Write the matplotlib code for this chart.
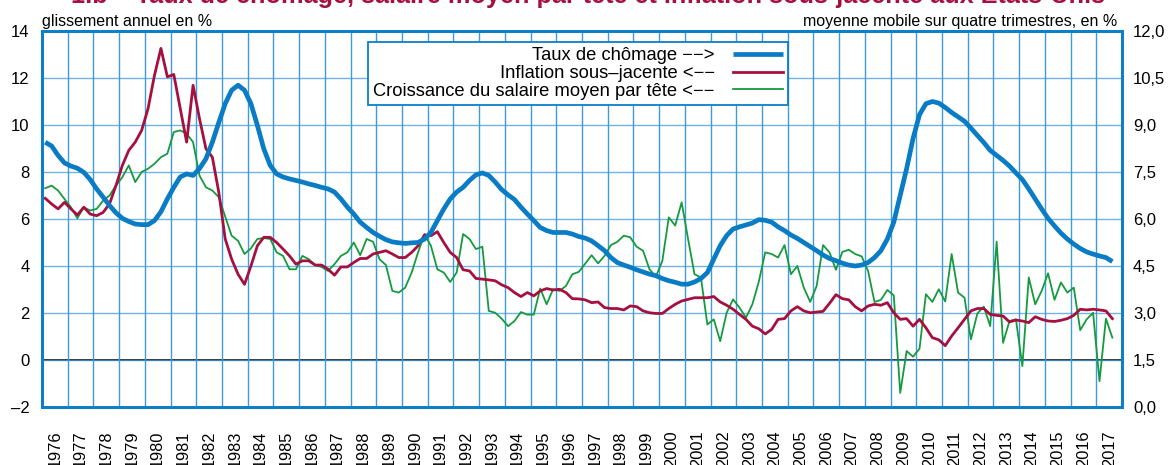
import numpy as np
import matplotlib
matplotlib.use("Agg")
import matplotlib.pyplot as plt

plt.rcParams['font.family'] = ['Liberation Sans', 'DejaVu Sans']

# quarterly data, 1976Q1 .. 2017Q3
# unemployment rate, 4-quarter moving average (right axis, %)
unemployment = [
    8.45, 8.33, 8.03, 7.79,   # 1976
    7.69, 7.62, 7.49, 7.26,   # 1977
    6.96, 6.70, 6.43, 6.20,   # 1978
    6.02, 5.92, 5.84, 5.82,   # 1979
    5.82, 5.95, 6.23, 6.64,   # 1980
    7.01, 7.34, 7.44, 7.39,   # 1981
    7.61, 7.92, 8.45, 9.08,   # 1982
    9.68, 10.11, 10.27, 10.11,  # 1983
    9.68, 8.99, 8.24, 7.71,   # 1984
    7.44, 7.34, 7.28, 7.23,   # 1985
    7.18, 7.12, 7.07, 7.01,   # 1986
    6.96, 6.86, 6.64, 6.38,   # 1987
    6.16, 5.90, 5.73, 5.57,   # 1988
    5.45, 5.34, 5.27, 5.24,   # 1989
    5.22, 5.24, 5.25, 5.36,   # 1990
    5.57, 5.95, 6.32, 6.64,   # 1991
    6.86, 7.01, 7.23, 7.41,   # 1992
    7.47, 7.39, 7.18, 6.94,   # 1993
    6.77, 6.62, 6.38, 6.16,   # 1994
    5.95, 5.73, 5.63, 5.57,   # 1995
    5.57, 5.57, 5.52, 5.44,   # 1996
    5.39, 5.30, 5.15, 4.99,   # 1997
    4.77, 4.61, 4.53, 4.46,   # 1998
    4.38, 4.31, 4.24, 4.19,   # 1999
    4.10, 4.03, 3.98, 3.92,   # 2000
    3.92, 3.99, 4.10, 4.29,   # 2001
    4.72, 5.15, 5.47, 5.68,   # 2002
    5.75, 5.81, 5.87, 5.98,   # 2003
    5.96, 5.90, 5.75, 5.63,   # 2004
    5.49, 5.38, 5.25, 5.12,   # 2005
    4.99, 4.85, 4.74, 4.67,   # 2006
    4.59, 4.53, 4.50, 4.53,   # 2007
    4.61, 4.77, 4.99, 5.36,   # 2008
    5.90, 6.75, 7.61, 8.57,   # 2009
    9.33, 9.68, 9.75, 9.70,   # 2010
    9.56, 9.40, 9.26, 9.12,   # 2011
    8.90, 8.67, 8.44, 8.19,   # 2012
    8.03, 7.87, 7.69, 7.47,   # 2013
    7.26, 6.96, 6.64, 6.32,   # 2014
    6.02, 5.78, 5.55, 5.36,   # 2015
    5.20, 5.06, 4.95, 4.88,   # 2016
    4.82, 4.77, 4.64,         # 2017
]

# core inflation, year-on-year (left axis, %)
inflation = [
    6.88, 6.64, 6.43, 6.71,   # 1976
    6.43, 6.17, 6.50, 6.21,   # 1977
    6.14, 6.28, 6.64, 7.42,   # 1978
    8.28, 8.92, 9.27, 9.77,   # 1979
    10.70, 12.12, 13.26, 12.05,  # 1980
    12.15, 10.70, 9.27, 11.69,   # 1981
    10.27, 8.99, 8.63, 7.14,  # 1982
    5.15, 4.29, 3.65, 3.22,   # 1983
    4.00, 4.86, 5.22, 5.22,   # 1984
    5.00, 4.72, 4.43, 4.08,   # 1985
    4.22, 4.22, 4.04, 4.04,   # 1986
    3.86, 3.61, 3.96, 3.96,   # 1987
    4.15, 4.32, 4.32, 4.51,   # 1988
    4.58, 4.65, 4.51, 4.36,   # 1989
    4.36, 4.58, 4.86, 5.32,   # 1990
    5.29, 5.46, 5.00, 4.58,   # 1991
    4.36, 3.84, 3.79, 3.47,   # 1992
    3.44, 3.41, 3.37, 3.20,   # 1993
    3.08, 2.87, 2.70, 2.87,   # 1994
    2.73, 2.94, 3.04, 2.98,   # 1995
    3.01, 2.87, 2.61, 2.60,   # 1996
    2.56, 2.44, 2.47, 2.23,   # 1997
    2.19, 2.19, 2.13, 2.30,   # 1998
    2.27, 2.09, 2.01, 1.98,   # 1999
    1.98, 2.19, 2.37, 2.51,   # 2000
    2.58, 2.65, 2.65, 2.65,   # 2001
    2.70, 2.47, 2.33, 2.16,   # 2002
    1.94, 1.73, 1.44, 1.33,   # 2003
    1.11, 1.30, 1.73, 1.76,   # 2004
    2.09, 2.27, 2.09, 2.01,   # 2005
    2.04, 2.07, 2.41, 2.78,   # 2006
    2.61, 2.56, 2.27, 2.09,   # 2007
    2.30, 2.37, 2.33, 2.44,   # 2008
    2.01, 1.73, 1.76, 1.44,   # 2009
    1.73, 1.37, 0.95, 0.86,   # 2010
    0.61, 1.02, 1.37, 1.73,   # 2011
    2.09, 2.19, 2.19, 1.94,   # 2012
    1.90, 1.87, 1.62, 1.70,   # 2013
    1.66, 1.59, 1.84, 1.73,   # 2014
    1.66, 1.64, 1.69, 1.76,   # 2015
    1.90, 2.16, 2.13, 2.16,   # 2016
    2.13, 2.09, 1.76,         # 2017
]

# average wage per head, year-on-year (left axis, %)
wages = [
    7.31, 7.42, 7.21, 6.85,   # 1976
    6.50, 6.03, 6.50, 6.36,   # 1977
    6.43, 6.78, 7.00, 7.42,   # 1978
    7.78, 8.28, 7.57, 8.00,   # 1979
    8.14, 8.35, 8.63, 8.78,   # 1980
    9.70, 9.77, 9.63, 9.27,   # 1981
    7.85, 7.35, 7.21, 6.93,   # 1982
    6.10, 5.29, 5.07, 4.51,   # 1983
    4.75, 5.15, 5.19, 5.15,   # 1984
    4.58, 4.43, 3.86, 3.86,   # 1985
    4.43, 4.29, 4.04, 3.96,   # 1986
    3.79, 4.08, 4.43, 4.58,   # 1987
    5.00, 4.46, 5.15, 5.03,   # 1988
    4.29, 4.04, 2.94, 2.87,   # 1989
    3.08, 3.72, 4.58, 5.36,   # 1990
    4.86, 3.86, 3.72, 3.32,   # 1991
    3.72, 5.36, 5.15, 4.72,   # 1992
    4.82, 2.09, 2.01, 1.76,   # 1993
    1.44, 1.66, 2.04, 1.93,   # 1994
    1.93, 3.04, 2.37, 3.01,   # 1995
    2.94, 3.15, 3.65, 3.75,   # 1996
    4.10, 4.46, 4.11, 4.43,   # 1997
    4.89, 5.03, 5.29, 5.22,   # 1998
    4.82, 4.65, 3.86, 3.55,   # 1999
    4.22, 6.07, 5.72, 6.71,   # 2000
    5.15, 3.65, 3.51, 1.51,   # 2001
    1.73, 0.80, 2.01, 2.58,   # 2002
    2.23, 1.80, 2.37, 3.33,   # 2003
    4.58, 4.51, 4.36, 4.89,   # 2004
    3.65, 4.00, 3.08, 2.47,   # 2005
    3.15, 4.89, 4.58, 3.84,   # 2006
    4.60, 4.69, 4.51, 4.41,   # 2007
    3.79, 2.47, 2.56, 2.98,   # 2008
    2.75, -1.40, 0.38, 0.14,  # 2009
    0.48, 2.80, 2.47, 3.01,   # 2010
    2.49, 4.51, 2.87, 2.65,   # 2011
    0.88, 1.98, 2.27, 1.44,   # 2012
    5.03, 0.73, 1.66, 1.73,   # 2013
    -0.26, 3.51, 2.37, 2.94,  # 2014
    3.69, 2.56, 3.30, 2.87,   # 2015
    3.08, 1.27, 1.73, 2.01,   # 2016
    -0.90, 1.76, 0.95,        # 2017
]

years = list(range(1976, 2018))
left_ticks = [-2, 0, 2, 4, 6, 8, 10, 12, 14]
left_labels = ['–2', '0', '2', '4', '6', '8', '10', '12', '14']
right_ticks = [0, 1.5, 3, 4.5, 6, 7.5, 9, 10.5, 12]
right_labels = ['0,0', '1,5', '3,0', '4,5', '6,0', '7,5', '9,0', '10,5', '12,0']

title = "1.b – Taux de chômage, salaire moyen par tête et inflation sous-jacente aux Etats-Unis"
label_u = "Taux de chômage \u2212\u2212>"
label_i = "Inflation sous\u2013jacente <\u2212\u2212"
label_w = "Croissance du salaire moyen par tête <\u2212\u2212"

# colours
c_blue = '#0a7cc6'
c_red = '#a5103f'
c_green = '#169a3e'
c_grid = '#3f9bd9'
c_frame = '#0c7fc8'

x = years[0] + 0.125 + 0.25 * np.arange(len(inflation))

W, H = 1168, 465
fig = plt.figure(figsize=(W / 100, H / 100), dpi=100)
ax = fig.add_axes([42 / W, 1 - 407 / H, 1080 / W, 376 / H])
ax2 = ax.twinx()

# grid
ax.set_xlim(years[0], years[-1] + 1)
ax.set_ylim(-2, 14)
ax2.set_ylim(0, 12)
ax.set_xticks(np.arange(years[0] + 1, years[-1] + 1))
ax.set_xticklabels([])
ax.set_xticks(np.array(years) + 0.5, minor=True)
ax.set_xticklabels([str(y) for y in years], minor=True, rotation=90, fontsize=11.8)
ax.tick_params(axis='x', which='both', length=0)
ax.tick_params(axis='x', which='minor', pad=17)
ax.grid(axis='x', which='major', color=c_grid, lw=1.0)
ax.grid(axis='y', color=c_grid, lw=1.0, alpha=0.75)
ax.axhline(0, color='#222222', lw=1.3, zorder=1.5)

ax.set_yticks(left_ticks)
ax.set_yticklabels(left_labels, fontsize=12)
ax.tick_params(axis='y', length=0, pad=9)
ax2.set_yticks(right_ticks)
ax2.set_yticklabels(right_labels, fontsize=12)
ax2.tick_params(axis='y', length=0, pad=8)

# series
l_w, = ax.plot(x, wages, color=c_green, lw=1.3, zorder=2)
l_i, = ax.plot(x, inflation, color=c_red, lw=2.0, zorder=3)
l_u, = ax2.plot(x, unemployment, color=c_blue, lw=3.4, zorder=4, solid_capstyle='butt')

for a in (ax, ax2):
    for s in a.spines.values():
        s.set_color(c_frame)
        s.set_linewidth(2.0)

leg = ax2.legend([l_u, l_i, l_w], [label_u, label_i, label_w],
                 loc='upper right', bbox_to_anchor=(0.691, 0.972),
                 borderaxespad=0.0, fontsize=13.2, markerfirst=False,
                 handlelength=2.7, labelspacing=0.05, borderpad=0.3,
                 handletextpad=1.0, fancybox=False, framealpha=1.0,
                 edgecolor=c_frame)
leg.get_frame().set_linewidth(1.3)

# header texts
fig.text(42 / W, 1 - 26 / H, "glissement annuel en %", ha='left', va='baseline', fontsize=11.5)
fig.text(1117 / W, 1 - 26 / H, "moyenne mobile sur quatre trimestres, en %", ha='right', va='baseline', fontsize=11.5)
# title sits partly above the top edge, as in the source page crop
fig.text(588 / W, 1 - 3 / H, title, ha='center', va='baseline', fontsize=18.2,
         fontweight='bold', color=c_red)

fig.savefig('out.png', dpi=100)
